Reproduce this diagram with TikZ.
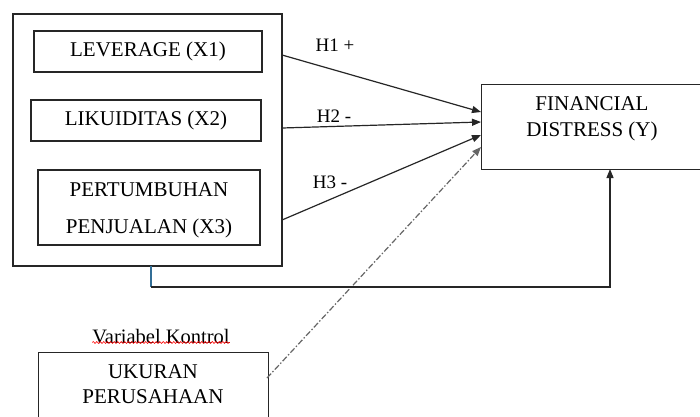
\documentclass[tikz,border=0pt]{standalone}
\usepackage{fontspec}
\setmainfont{Liberation Serif}
\usetikzlibrary{arrows.meta,decorations.pathmorphing}
\begin{document}
\begin{tikzpicture}[x=1pt,y=-1pt,
  box/.style={draw, line width=1.2pt, draw=black!85, inner sep=0pt, font=\fontsize{21}{21}\selectfont, align=center},
  arr/.style={line width=1.2pt, draw=black!85, -{Triangle[length=9pt,width=7pt]}},
  lbl/.style={font=\fontsize{21}{24}\selectfont, inner sep=0pt}]
\useasboundingbox (0,0) rectangle (700,416);
\fill[white] (0,0) rectangle (700,416);
% outer frame
\node[box, minimum width=269pt, minimum height=252pt] (outer) at (147.5,140) {};
\node[box, minimum width=228pt, minimum height=41pt] (x1) at (148,51.5) {LEVERAGE (X1)};
\node[box, minimum width=230pt, minimum height=41pt] (x2) at (146,120.5) {LIKUIDITAS (X2)};
\node[box, minimum width=222pt, minimum height=75pt] (x3) at (149,207.5) {};
\node[lbl] (x3a) at (149,190) {PERTUMBUHAN};
\node[lbl] (x3b) at (149,228) {PENJUALAN (X3)};
\node[box, minimum width=222pt, minimum height=85pt, anchor=north west] (y) at (481,84) {};
\node[lbl, align=center, font=\fontsize{21}{26}\selectfont] (ytxt) at (592,119) {FINANCIAL\\DISTRESS (Y)};
\node[box, minimum width=230pt, minimum height=70pt, anchor=north west] (ctrl) at (38,352) {};
\node[lbl, align=center, font=\fontsize{21}{25}\selectfont] (ctxt) at (153,384) {UKURAN\\PERUSAHAAN};
\node[lbl, font=\fontsize{20.5}{22}\selectfont] (vk) at (161,337) {Variabel Kontrol};
\draw[red, line width=0.6pt, decorate, decoration={snake, amplitude=1pt, segment length=3.5pt}]
  ([yshift=2pt]vk.south west) -- ([yshift=2pt]vk.south east);
% anchor coordinates
\coordinate (s1) at (282,55);
\coordinate (s2) at (282,128);
\coordinate (s3) at (282,220);
\coordinate (e1) at (481,112);
\coordinate (e2) at (481,122);
\coordinate (e3) at (481,135);
\coordinate (e4) at (481,147);
\coordinate (c0) at (267,378);
\coordinate (b0) at (151,266);
\coordinate (b1) at (151,287);
\coordinate (b2) at (610,287);
\coordinate (yb) at (610,169);
\draw[arr] (s1) -- (e1);
\draw[arr] (s2) -- (e2);
\draw[arr] (s3) -- (e3);
\draw[arr, draw=black!60, dash pattern=on 6pt off 2pt on 1.5pt off 2pt] (c0) -- (e4);
\node[lbl, font=\fontsize{19}{20}\selectfont] (h1) at (335,45) {H1 +};
\node[lbl, font=\fontsize{19}{20}\selectfont] (h2) at (334,116) {H2 -};
\node[lbl, font=\fontsize{19}{20}\selectfont] (h3) at (330,182) {H3 -};
\draw[line width=1.2pt, color={rgb,255:red,50;green,110;blue,150}] (b0) -- (b1);
\draw[arr] (b1) -- (b2) -- (yb);
\end{tikzpicture}
\end{document}
